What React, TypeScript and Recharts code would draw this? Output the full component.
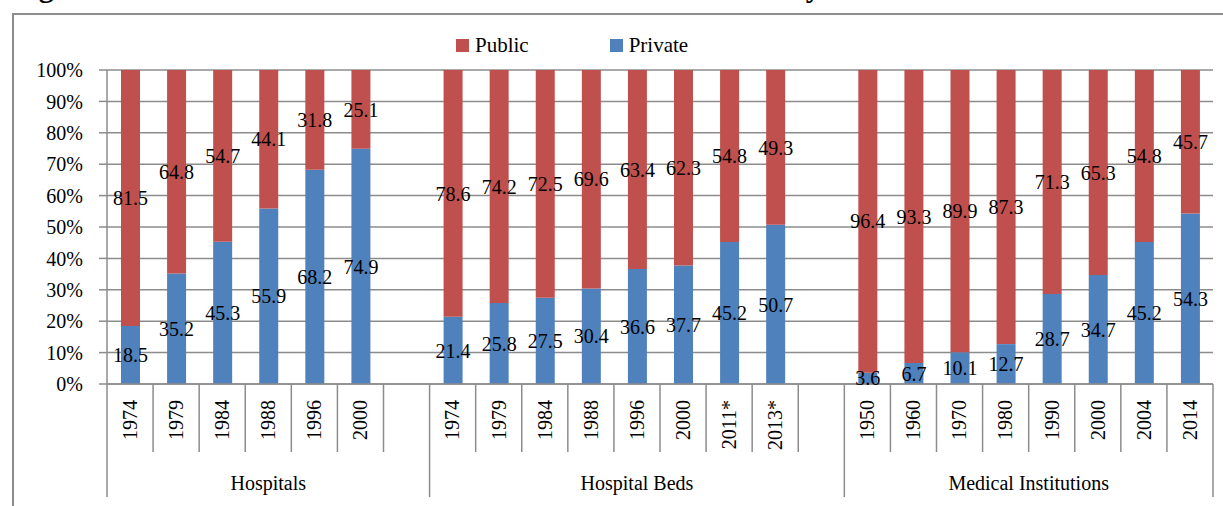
import { Bar, BarChart, CartesianGrid, LabelList, XAxis, YAxis } from 'recharts'

// share of facilities / beds held by each sector, in percent
const HOSPITAL_YEARS = ['1974', '1979', '1984', '1988', '1996', '2000']
const HOSPITAL_PRIVATE = [18.5, 35.2, 45.3, 55.9, 68.2, 74.9]
const HOSPITAL_PUBLIC = [81.5, 64.8, 54.7, 44.1, 31.8, 25.1]

const BED_YEARS = ['1974', '1979', '1984', '1988', '1996', '2000', '2011*', '2013*']
const BED_PRIVATE = [21.4, 25.8, 27.5, 30.4, 36.6, 37.7, 45.2, 50.7]
const BED_PUBLIC = [78.6, 74.2, 72.5, 69.6, 63.4, 62.3, 54.8, 49.3]

const INSTITUTION_YEARS = ['1950', '1960', '1970', '1980', '1990', '2000', '2004', '2014']
const INSTITUTION_PRIVATE = [3.6, 6.7, 10.1, 12.7, 28.7, 34.7, 45.2, 54.3]
const INSTITUTION_PUBLIC = [96.4, 93.3, 89.9, 87.3, 71.3, 65.3, 54.8, 45.7]

const GROUP_NAMES = ['Hospitals', 'Hospital Beds', 'Medical Institutions']
const Y_TICKS = [0, 10, 20, 30, 40, 50, 60, 70, 80, 90, 100]
const TITLE = 'Figure 3: Private Sector Domination in Health Service Delivery'

const SERIES = [
  { key: 'public', label: 'Public', color: '#C0504D' },
  { key: 'private', label: 'Private', color: '#4F81BD' },
]

const groups = [
  { name: GROUP_NAMES[0], years: HOSPITAL_YEARS, priv: HOSPITAL_PRIVATE, pub: HOSPITAL_PUBLIC, gap: true },
  { name: GROUP_NAMES[1], years: BED_YEARS, priv: BED_PRIVATE, pub: BED_PUBLIC, gap: true },
  { name: GROUP_NAMES[2], years: INSTITUTION_YEARS, priv: INSTITUTION_PRIVATE, pub: INSTITUTION_PUBLIC, gap: false },
]

interface Row {
  year: string
  private: number | null
  public: number | null
  groupName?: string
  groupSpan?: number
}

// one row per bar, plus an empty slot closing the first two groups
const rows: Row[] = []
groups.forEach((g) => {
  const span = g.years.length + (g.gap ? 1 : 0)
  g.years.forEach((y, i) => {
    rows.push({
      year: y,
      private: g.priv[i],
      public: g.pub[i],
      ...(i === 0 ? { groupName: g.name, groupSpan: span } : {}),
    })
  })
  if (g.gap) rows.push({ year: '', private: null, public: null })
})

const W = 1223
const H = 506
const M = { top: 70, right: 10, left: 0, bottom: 0 }
const Y_AXIS_W = 107
const X_AXIS_H = 122
const PLOT_BOTTOM = H - M.bottom - X_AXIS_H
const SLOT = (W - M.left - M.right - Y_AXIS_W) / rows.length

const FONT = '"Liberation Serif", "Times New Roman", serif'
const LINE = '#8c8c8c'

function YearTick(props: any) {
  const { x, index } = props
  const row = rows[index]
  const left = x - SLOT / 2
  const isLast = index === rows.length - 1
  return (
    <g>
      <line x1={left} x2={left} y1={PLOT_BOTTOM} y2={row.groupName ? 497 : 452} stroke={LINE} strokeWidth={1.5} />
      {isLast && (
        <line x1={left + SLOT} x2={left + SLOT} y1={PLOT_BOTTOM} y2={497} stroke={LINE} strokeWidth={1.5} />
      )}
      {row.year && (
        <text
          x={x}
          y={400}
          transform={`rotate(-90 ${x} 400)`}
          textAnchor="end"
          dy="0.34em"
          fontSize={20}
          fontFamily={FONT}
          fill="#000"
        >
          {row.year}
        </text>
      )}
      {row.groupName && (
        <text
          x={left + (row.groupSpan! * SLOT) / 2}
          y={483}
          textAnchor="middle"
          dy="0.34em"
          fontSize={20}
          fontFamily={FONT}
          fill="#000"
        >
          {row.groupName}
        </text>
      )}
    </g>
  )
}

function LegendBox() {
  return (
    <div
      style={{
        position: 'absolute',
        left: 456,
        top: 31,
        display: 'flex',
        alignItems: 'center',
        fontFamily: FONT,
        fontSize: 21,
        lineHeight: '28px',
        color: '#000',
      }}
    >
      {SERIES.map((s, i) => (
        <div key={s.key} style={{ display: 'flex', alignItems: 'center', marginRight: i === 0 ? 81 : 0 }}>
          <span style={{ width: 13, height: 13, background: s.color, marginRight: 6 }} />
          {s.label}
        </div>
      ))}
    </div>
  )
}

export default function App() {
  return (
    <div style={{ position: 'absolute', left: 0, top: 0, width: W, height: H, overflow: 'hidden', background: '#fff' }}>
      {/* caption sits above the frame; only its lowest strokes fall inside the page */}
      <svg width={W} height={12} style={{ position: 'absolute', left: 0, top: 0 }}>
        <text x={12} y={-3} fontFamily={FONT} fontWeight="bold" fontSize={30}>
          {TITLE}
        </text>
      </svg>
      <div
        style={{
          position: 'absolute',
          left: 12,
          top: 13,
          width: W,
          height: H,
          border: `2px solid ${LINE}`,
          boxSizing: 'border-box',
        }}
      />
      <LegendBox />
      <div style={{ position: 'absolute', left: 0, top: 0 }}>
        <BarChart width={W} height={H} data={rows} margin={M} barSize={19}>
          <CartesianGrid vertical={false} stroke={LINE} strokeWidth={1.5} />
          <XAxis
            dataKey="year"
            interval={0}
            height={X_AXIS_H}
            tickLine={false}
            axisLine={{ stroke: LINE, strokeWidth: 1.5 }}
            tick={<YearTick />}
          />
          <YAxis
            type="number"
            domain={[0, 100]}
            ticks={Y_TICKS}
            width={Y_AXIS_W}
            tickFormatter={(v) => `${v}%`}
            tickSize={8}
            tickMargin={16}
            tickLine={{ stroke: LINE, strokeWidth: 1.5 }}
            axisLine={{ stroke: LINE, strokeWidth: 1.5 }}
            tick={{ fontSize: 20, fontFamily: FONT, fill: '#000' }}
          />
          <Bar dataKey="private" name="Private" stackId="a" fill="#4F81BD" isAnimationActive={false}>
            <LabelList dataKey="private" position="center" fill="#000" fontSize={20} fontFamily={FONT} />
          </Bar>
          <Bar dataKey="public" name="Public" stackId="a" fill="#C0504D" isAnimationActive={false}>
            <LabelList dataKey="public" position="center" fill="#000" fontSize={20} fontFamily={FONT} />
          </Bar>
        </BarChart>
      </div>
    </div>
  )
}
